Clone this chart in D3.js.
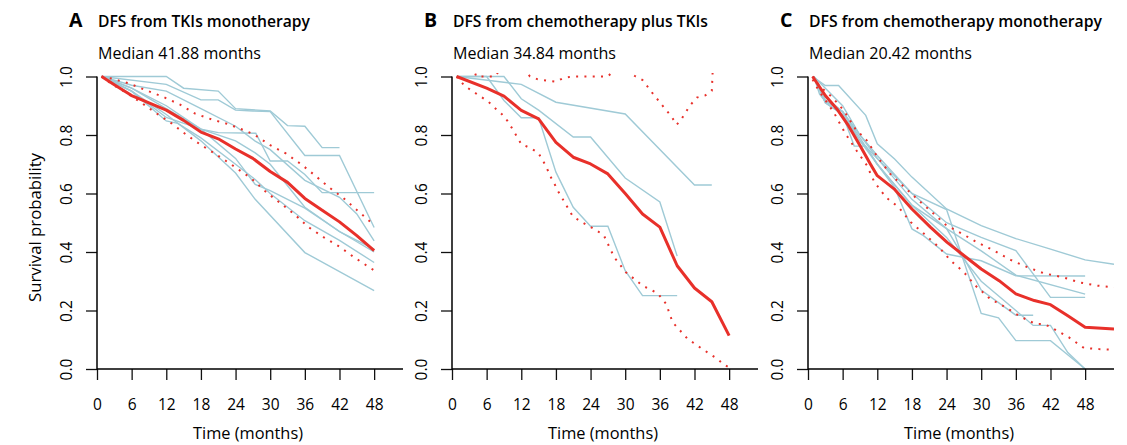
<!DOCTYPE html>
<html><head><meta charset="utf-8">
<script src="https://cdn.jsdelivr.net/npm/d3@7"></script>
<style>
body{margin:0;background:#fff}
svg{display:block}
text{font-family:"Open Sans","Noto Sans",sans-serif;fill:#000}
</style>
</head><body>
<svg id="chart" width="1127" height="445"></svg>
<script>
// ---------- text ----------
const panelLetters = ["A", "B", "C"];
const panelTitles = ["DFS from TKIs monotherapy", "DFS from chemotherapy plus TKIs", "DFS from chemotherapy monotherapy"];
const medianLabels = ["Median 41.88 months", "Median 34.84 months", "Median 20.42 months"];
const xTicks = [0, 6, 12, 18, 24, 30, 36, 42, 48];
const yTicks = [0, 0.2, 0.4, 0.6, 0.8, 1.0];
const xLabel = "Time (months)";
const yLabel = "Survival probability";

// ---------- Panel A: TKIs monotherapy ----------
const aPooled = [[0.8,1.0],[3,0.972],[6,0.935],[9,0.91],[12,0.885],[15,0.85],[18,0.81],[21,0.787],[24,0.752],[27,0.72],[30,0.675],[33,0.638],[36,0.583],[39,0.543],[42,0.503],[45,0.456],[48,0.405]];
const aUpper = [[0.8,1],[2.5,0.993],[5.6,0.976],[8.5,0.953],[11.5,0.93],[14.4,0.904],[17,0.873],[19.9,0.853],[22.9,0.836],[25.9,0.813],[27.2,0.802],[30,0.765],[32.7,0.737],[35.3,0.701],[37.8,0.661],[40.2,0.621],[42.7,0.584],[45.1,0.542],[48,0.492]];
const aLower = [[0.8,1],[2.25,0.978],[5.1,0.944],[7.7,0.91],[10.3,0.874],[12.9,0.84],[15.4,0.802],[18,0.766],[20.6,0.734],[23.2,0.7],[25.9,0.663],[27.1,0.645],[29.4,0.603],[31.9,0.565],[34.3,0.527],[36.7,0.484],[39.3,0.45],[42,0.418],[44.6,0.381],[48,0.337]];
const aStudy1 = [[0.8,1],[12,1],[15,0.96],[21,0.95],[24,0.89],[30,0.882],[33,0.832],[36,0.83],[39,0.757],[42,0.757]];
const aStudy2 = [[0.8,1],[12,0.973],[18,0.92],[21,0.92],[24,0.885],[27,0.882],[30,0.88],[36,0.73],[42,0.73],[48,0.484]];
const aStudy3 = [[0.8,1],[6,0.95],[12,0.86],[18,0.82],[21,0.808],[27.5,0.806],[30,0.711],[33,0.711],[36,0.665],[39,0.603],[48,0.603]];
const aStudy4 = [[0.8,1],[6,0.97],[12,0.95],[18,0.89],[24,0.83],[27.4,0.779],[30,0.75],[36,0.645],[42,0.587],[45,0.53],[48,0.438]];
const aStudy5 = [[0.8,1],[6,0.96],[12,0.9],[18,0.82],[24,0.78],[27.4,0.739],[30,0.7],[36,0.553],[42,0.47],[48,0.41]];
const aStudy6 = [[0.8,1],[6,0.95],[12,0.848],[14,0.84],[18,0.79],[24,0.7],[27.4,0.648],[30,0.6],[36,0.507],[42,0.44],[48,0.364]];
const aStudy7 = [[0.8,1],[6,0.95],[12,0.87],[18,0.78],[24,0.67],[27.4,0.58],[36,0.398],[48,0.268]];
const aStudy8 = [[0.8,1],[6,0.96],[12,0.89],[18,0.82],[24,0.72],[27.4,0.631],[30,0.61],[36,0.55],[42,0.47],[48,0.4]];

// ---------- Panel B: chemotherapy plus TKIs ----------
const bPooled = [[0.8,1],[6,0.96],[9,0.933],[12,0.884],[15,0.855],[18,0.775],[21,0.724],[24,0.701],[27,0.667],[30,0.6],[33,0.53],[36,0.485],[39,0.353],[42,0.277],[45,0.23],[48,0.114]];
const bUpper = [[0.8,1.04],[3.5,1.04],[4.2,1],[7.4,1],[9,1.04],[12,1.04],[13.5,1.0],[14.9,0.99],[16.4,0.986],[18,0.982],[19.3,0.995],[20.8,1.0],[24,1.0],[27,1.0],[29,1.04],[31.8,1.0],[33,0.988],[34,0.962],[35,0.936],[36,0.912],[37,0.887],[38,0.864],[38.9,0.835],[39.7,0.853],[40.5,0.879],[41.4,0.905],[42.4,0.928],[43.9,0.936],[45,0.951],[45.2,1.04]];
const bLower = [[0.8,1],[2.2,0.968],[3.7,0.948],[5,0.931],[6.3,0.914],[7.4,0.893],[8.6,0.872],[9.6,0.848],[10.4,0.823],[11.2,0.796],[12,0.769],[13.5,0.756],[14.9,0.74],[15.7,0.714],[16.4,0.688],[17,0.66],[17.8,0.631],[18.5,0.603],[19.3,0.577],[20.1,0.549],[20.9,0.523],[22.2,0.505],[23.5,0.491],[25,0.474],[26.3,0.457],[28.1,0.382],[30.1,0.331],[33,0.285],[35.6,0.259],[37.1,0.222],[38.2,0.16],[40.8,0.103],[43.4,0.068],[46,0.034],[47.1,0.015],[48,0.005]];
const bStudy1 = [[0.8,1],[12,0.973],[18,0.912],[30,0.872],[42,0.629],[45,0.629]];
const bStudy2 = [[0.8,1],[9,1],[12,0.924],[15,0.885],[21,0.793],[24,0.793],[30,0.653],[36,0.571],[39,0.386]];
const bStudy3 = [[0.8,1],[6,1],[9,0.918],[12,0.859],[15,0.859],[18,0.673],[21,0.553],[24,0.488],[27,0.488],[30,0.336],[33,0.251],[39,0.251]];

// ---------- Panel C: chemotherapy monotherapy ----------
const cPooled = [[0.8,1],[3,0.935],[5,0.889],[7,0.832],[9,0.764],[10.8,0.701],[12,0.661],[14.9,0.616],[18,0.547],[21.2,0.485],[24.1,0.433],[27,0.388],[30,0.342],[33.1,0.302],[36,0.257],[39.2,0.234],[42,0.22],[45,0.182],[48,0.143],[53,0.137]];
const cUpper = [[0.8,1],[2.1,0.965],[4.2,0.929],[6.2,0.884],[8.2,0.821],[10.2,0.781],[12.2,0.72],[14.5,0.661],[16.9,0.618],[19.2,0.576],[21.5,0.536],[23.8,0.494],[26.7,0.462],[29.3,0.433],[32.2,0.405],[35.1,0.373],[38,0.348],[40.9,0.327],[44.1,0.314],[47,0.296],[50.1,0.285],[53,0.279]];
const cLower = [[0.8,0.99],[1.85,0.952],[4.45,0.878],[6.5,0.804],[8.4,0.747],[10.2,0.696],[11.5,0.639],[13.5,0.587],[15.7,0.553],[17.8,0.502],[20.1,0.462],[22.7,0.416],[24.7,0.371],[27,0.331],[29,0.285],[31.6,0.239],[34.2,0.211],[36.8,0.179],[39.4,0.154],[40.9,0.154],[42.6,0.137],[45.2,0.108],[47.8,0.072],[50.4,0.068],[53,0.066]];
const cStudy1 = [[0.8,1],[3,0.969],[5.3,0.969],[10,0.867],[12,0.77],[15,0.718],[18,0.656],[24,0.547],[30,0.49],[36,0.446],[42,0.41],[48,0.373],[53,0.358]];
const cStudy2 = [[1,1],[2,0.94],[3,0.915],[6,0.88],[9,0.8],[12,0.72],[18,0.6],[24,0.5],[30,0.45],[36,0.405],[42,0.245],[48,0.245]];
const cStudy3 = [[1,1],[3,0.93],[6,0.88],[9,0.78],[12,0.72],[18,0.58],[24,0.48],[30,0.404],[36,0.321],[48,0.256]];
const cStudy4 = [[1,1],[3,0.91],[6,0.87],[8,0.762],[10,0.762],[12,0.7],[15,0.62],[18,0.479],[20,0.456],[24,0.393],[30,0.37],[36,0.319],[48,0.318]];
const cStudy5 = [[1,1],[3,0.92],[6,0.88],[9,0.79],[12,0.7],[18,0.56],[24,0.48],[27,0.38],[30,0.27],[36,0.184],[39,0.184]];
const cStudy6 = [[1,1],[3,0.96],[6,0.9],[9,0.8],[12,0.73],[18,0.6],[24,0.545],[30,0.19],[33,0.175],[36,0.097],[42,0.097],[48,0.0]];
const cStudy7 = [[1,1],[3,0.91],[6,0.87],[9,0.78],[12,0.7],[18,0.56],[24,0.45],[30,0.3],[36,0.2],[39,0.149],[42,0.149],[45,0.056],[48,0.0]];

const panelData = [
  {pooled: aPooled, upper: aUpper, lower: aLower, studies: [aStudy1,aStudy2,aStudy3,aStudy4,aStudy5,aStudy6,aStudy7,aStudy8]},
  {pooled: bPooled, upper: bUpper, lower: bLower, studies: [bStudy1,bStudy2,bStudy3]},
  {pooled: cPooled, upper: cUpper, lower: cLower, studies: [cStudy1,cStudy2,cStudy3,cStudy4,cStudy5,cStudy6,cStudy7]}
];

// ---------- layout ----------
const panelLeft = [97, 452, 808];
const titleWidths = [212, 255, 293];
const plotW = 306, yTop = 76.5, yBot = 369;
const blue = "#9fcad6", red = "#e8302a";

const svg = d3.select("#chart");

panelData.forEach((p, i) => {
  const g = svg.append("g").attr("transform", `translate(${panelLeft[i]},0)`);
  const x = d3.scaleLinear().domain([0, 53]).range([0, plotW]);
  const y = d3.scaleLinear().domain([0, 1]).range([yBot, yTop]);

  const clipId = "clip" + i;
  g.append("clipPath").attr("id", clipId).append("rect")
    .attr("x", 0).attr("y", y(1.012)).attr("width", plotW).attr("height", yBot - y(1.012) + 3);

  const line = d3.line().x(d => x(d[0])).y(d => y(d[1]));
  const lines = g.append("g").attr("clip-path", `url(#${clipId})`);

  lines.selectAll("path.study").data(p.studies).join("path")
    .attr("class", "study").attr("d", line)
    .attr("fill", "none").attr("stroke", blue).attr("stroke-width", 1.4);

  lines.selectAll("path.ci").data([p.upper, p.lower]).join("path")
    .attr("class", "ci").attr("d", line)
    .attr("fill", "none").attr("stroke", red).attr("stroke-width", 2)
    .attr("stroke-dasharray", "2,6.3");

  lines.append("path").datum(p.pooled).attr("d", line)
    .attr("fill", "none").attr("stroke", red).attr("stroke-width", 3)
    .attr("stroke-linejoin", "round");

  // y axis
  g.append("g").call(d3.axisLeft(y).tickValues(yTicks).tickSize(11).tickFormat(d3.format(".1f")))
    .attr("font-size", 15.5).attr("font-family", null)
    .call(a => {
      a.select(".domain").remove();
      a.selectAll("line").attr("stroke", "#111").attr("stroke-width", 1.3);
      a.selectAll("text").attr("x", null).attr("dy", null)
        .attr("transform", "translate(-25,0) rotate(-90)")
        .attr("text-anchor", "middle").attr("fill", "#000");
    });

  // x axis
  g.append("g").attr("transform", `translate(0,${yBot})`)
    .call(d3.axisBottom(x).tickValues(xTicks).tickSize(11).tickFormat(d3.format("d")))
    .attr("font-size", 15.5).attr("font-family", null)
    .call(a => {
      a.select(".domain").remove();
      a.selectAll("line").attr("stroke", "#111").attr("stroke-width", 1.3);
      a.selectAll("text").attr("y", 41).attr("dy", null).attr("fill", "#000");
    });

  // L-shaped frame
  g.append("path")
    .attr("d", `M0,${y(1)}V${yBot}H${plotW}`)
    .attr("fill", "none").attr("stroke", "#000").attr("stroke-width", 1.5);

  // titles
  g.append("text").attr("x", -28).attr("y", 26.5)
    .attr("font-size", 19.5).attr("font-weight", 700).text(panelLetters[i]);
  g.append("text").attr("x", 1).attr("y", 26.5)
    .attr("font-size", 16).attr("font-weight", 600)
    .attr("textLength", titleWidths[i]).attr("lengthAdjust", "spacingAndGlyphs")
    .text(panelTitles[i]);
  g.append("text").attr("x", 1).attr("y", 59)
    .attr("font-size", 16)
    .attr("textLength", 163).attr("lengthAdjust", "spacingAndGlyphs")
    .text(medianLabels[i]);

  // x label
  g.append("text").attr("x", 151).attr("y", 438.5)
    .attr("text-anchor", "middle").attr("font-size", 16.5)
    .attr("textLength", 110).attr("lengthAdjust", "spacingAndGlyphs")
    .text(xLabel);
});

// y label (only first panel)
svg.append("text").attr("transform", "translate(41,227.5) rotate(-90)")
  .attr("text-anchor", "middle").attr("font-size", 16.5)
  .attr("textLength", 149).attr("lengthAdjust", "spacingAndGlyphs")
  .text(yLabel);
</script>
</body></html>
